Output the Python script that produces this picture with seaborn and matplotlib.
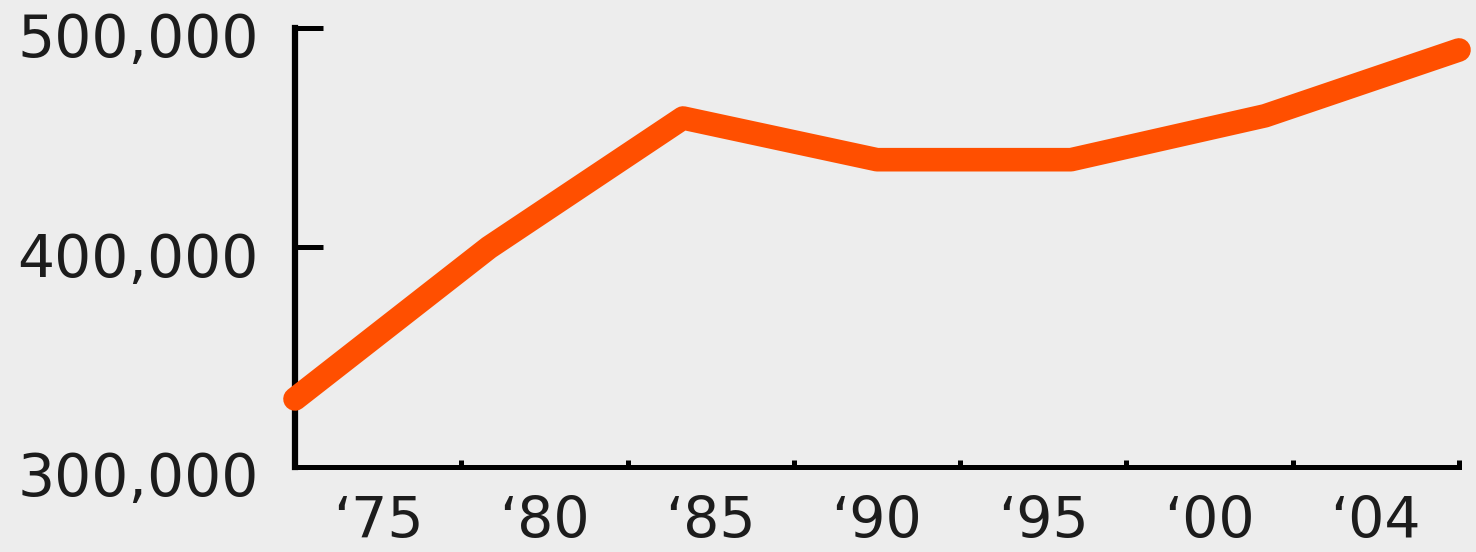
import numpy as np
import pandas as pd
import matplotlib
matplotlib.use("Agg")
import matplotlib.pyplot as plt
import matplotlib.transforms as mtransforms
import seaborn as sns

# ── Data ──────────────────────────────────────────────────────────────────────
TICK_LABELS = ["\u201875", "\u201880", "\u201885", "\u201890", "\u201895", "\u201800", "\u201804"]
VALUES = [331_000, 400_000, 459_000, 440_000, 440_000, 460_000, 490_000]
Y_TICKS = [300_000, 400_000, 500_000]

df = pd.DataFrame({"pos": np.arange(len(VALUES)), "value": VALUES})

BG = "#ededed"
LINE = "#ff4f00"
INK = "#1c1c1c"

sns.set_theme(style="white")
plt.rcParams["font.family"] = ["DejaVu Sans"]

fig = plt.figure(figsize=(14.76, 5.52), dpi=100, facecolor=BG)
ax = fig.add_axes([295 / 1476, 85 / 552, 1164 / 1476, 439 / 552])
ax.set_facecolor(BG)

sns.lineplot(data=df, x="pos", y="value", ax=ax, color=LINE, linewidth=17,
             solid_capstyle="round", solid_joinstyle="round", clip_on=False, zorder=3)

n = len(VALUES)
ax.set_xlim(0, n - 1)
ax.set_ylim(Y_TICKS[0], Y_TICKS[-1])

# x ticks at interval borders, labels centred in each interval
step = (n - 1) / n
ax.set_xticks([k * step for k in range(n + 1)])
ax.set_xticklabels([])
ax.set_xticks([(k + 0.5) * step for k in range(n)], minor=True)
ax.set_xticklabels(TICK_LABELS, minor=True)

ax.set_yticks(Y_TICKS)
ax.set_yticklabels([f"{v:,}" for v in Y_TICKS])

ax.tick_params(axis="x", which="major", direction="in", length=5, width=3.6,
               color="black", bottom=True)
ax.tick_params(axis="x", which="minor", length=0, pad=20, labelsize=41,
               labelcolor=INK, bottom=True)
ax.tick_params(axis="y", which="major", direction="in", length=20, width=3.6,
               color="black", pad=26, labelsize=42, labelcolor=INK, left=True)

# nudge y labels a touch down like the reference
offset = mtransforms.ScaledTranslation(0, -5 / 72, fig.dpi_scale_trans)
for lab in ax.get_yticklabels():
    lab.set_transform(lab.get_transform() + offset)

for side in ["top", "right"]:
    ax.spines[side].set_visible(False)
ax.spines["left"].set_linewidth(4.5)
ax.spines["bottom"].set_linewidth(3.6)
for side in ["left", "bottom"]:
    ax.spines[side].set_color("black")
    ax.spines[side].set_capstyle("projecting")

ax.set_xlabel("")
ax.set_ylabel("")
ax.grid(False)

fig.savefig("out.png", dpi=100, facecolor=BG)
